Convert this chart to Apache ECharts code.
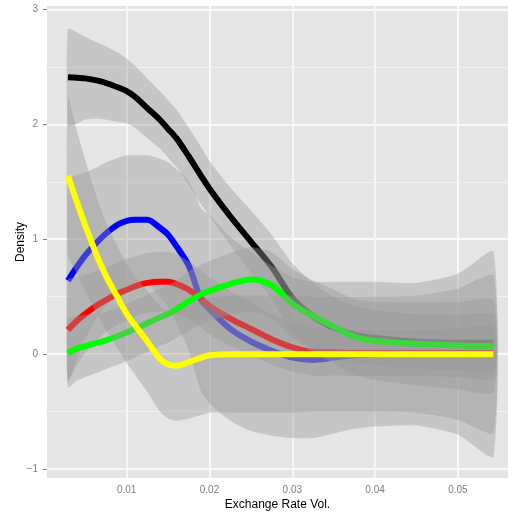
<!DOCTYPE html>
<html>
<head>
<meta charset="utf-8">
<script src="https://cdn.jsdelivr.net/npm/echarts@6/dist/echarts.min.js"></script>
<style>
html,body{margin:0;padding:0;background:#fff;}
#chart{width:510px;height:516px;}
</style>
</head>
<body>
<div id="chart"></div>
<script>
// x positions (exchange rate volatility) where the curves were read
var xs = [0.0029, 0.004, 0.005, 0.0065, 0.0075, 0.009, 0.01, 0.011, 0.0125, 0.014, 0.015, 0.016, 0.0175,
          0.019, 0.02, 0.0225, 0.025, 0.0275, 0.03, 0.0325, 0.035, 0.0375, 0.04, 0.045, 0.05, 0.0543];

// smoothed density per group, and half width of its grey band
var blackY = [2.41, 2.405, 2.40, 2.38, 2.36, 2.32, 2.29, 2.24, 2.14, 2.04, 1.96, 1.88, 1.72,
              1.55, 1.44, 1.20, 0.98, 0.76, 0.49, 0.33, 0.23, 0.17, 0.14, 0.11, 0.10, 0.10];
var blackSe = [0.42, 0.395, 0.36, 0.33, 0.32, 0.30, 0.28, 0.27, 0.26, 0.25, 0.25, 0.25, 0.25,
               0.25, 0.24, 0.25, 0.27, 0.28, 0.30, 0.29, 0.27, 0.25, 0.24, 0.24, 0.24, 0.24];

var blueY = [0.64, 0.76, 0.86, 0.98, 1.05, 1.13, 1.16, 1.17, 1.17, 1.10, 1.04, 0.94, 0.77,
             0.47, 0.39, 0.22, 0.11, 0.03, -0.03, -0.05, -0.03, -0.01, 0.0, 0.0, 0.0, 0.0];
var blueSe = [0.88, 0.80, 0.72, 0.65, 0.62, 0.58, 0.57, 0.56, 0.56, 0.60, 0.63, 0.67, 0.74,
              0.80, 0.82, 0.80, 0.78, 0.74, 0.70, 0.68, 0.66, 0.64, 0.63, 0.62, 0.70, 0.89];

var redY = [0.21, 0.29, 0.35, 0.43, 0.47, 0.53, 0.56, 0.59, 0.62, 0.63, 0.63, 0.61, 0.56,
            0.48, 0.42, 0.31, 0.22, 0.13, 0.06, 0.02, 0.015, 0.01, 0.01, 0.01, 0.01, 0.01];
var redSe = [0.44, 0.38, 0.34, 0.30, 0.28, 0.27, 0.27, 0.26, 0.26, 0.26, 0.26, 0.26, 0.25,
             0.25, 0.25, 0.24, 0.23, 0.22, 0.21, 0.21, 0.20, 0.20, 0.20, 0.20, 0.21, 0.22];

var greenY = [0.01, 0.05, 0.07, 0.10, 0.12, 0.16, 0.19, 0.22, 0.27, 0.32, 0.35, 0.39, 0.46,
              0.52, 0.55, 0.61, 0.65, 0.60, 0.44, 0.33, 0.24, 0.15, 0.115, 0.09, 0.075, 0.07];
var greenSe = [0.30, 0.28, 0.27, 0.26, 0.25, 0.25, 0.25, 0.25, 0.25, 0.25, 0.25, 0.25, 0.26,
               0.26, 0.26, 0.27, 0.28, 0.29, 0.30, 0.31, 0.32, 0.33, 0.34, 0.36, 0.38, 0.40];

var yellowY = [1.55, 1.32, 1.12, 0.84, 0.68, 0.48, 0.35, 0.25, 0.11, -0.04, -0.09, -0.10, -0.07,
               -0.03, -0.01, 0.0, 0.0, 0.0, 0.0, 0.0, 0.0, 0.0, 0.0, 0.0, 0.0, 0.0];
var yellowSe = [0.69, 0.62, 0.57, 0.50, 0.47, 0.44, 0.43, 0.43, 0.44, 0.46, 0.47, 0.48, 0.49,
                0.50, 0.50, 0.51, 0.51, 0.51, 0.51, 0.50, 0.50, 0.50, 0.50, 0.51, 0.57, 0.68];

// axis breaks
var xTicks = [0.01, 0.02, 0.03, 0.04, 0.05];
var xMinor = [0.005, 0.015, 0.025, 0.035, 0.045, 0.055];
var yTicks = [-1, 0, 1, 2, 3];
var yMinor = [-0.5, 0.5, 1.5, 2.5];

var groups = [
  {name: 'black', color: '#000000', y: blackY, se: blackSe},
  {name: 'blue', color: '#0000FF', y: blueY, se: blueSe},
  {name: 'red', color: '#FF0000', y: redY, se: redSe},
  {name: 'green', color: '#00FF00', y: greenY, se: greenSe},
  {name: 'yellow', color: '#FFFF00', y: yellowY, se: yellowSe}
];

var font = '"Liberation Sans", Arial, Helvetica, sans-serif';

function ribbon(g, z) {
  var data = xs.map(function (x, i) { return [x, g.y[i] - g.se[i], g.y[i] + g.se[i]]; });
  return {
    type: 'custom',
    name: g.name + ' se',
    z: z,
    silent: true,
    data: data,
    renderItem: function (params, api) {
      if (params.dataIndex !== 0) return null;
      var pts = [];
      for (var i = 0; i < data.length; i++) pts.push(api.coord([data[i][0], data[i][2]]));
      for (var j = data.length - 1; j >= 0; j--) pts.push(api.coord([data[j][0], data[j][1]]));
      return {
        type: 'polygon',
        shape: {points: pts, smooth: 0.2},
        style: {fill: 'rgba(153,153,153,0.4)', stroke: null}
      };
    }
  };
}

function curve(g, z) {
  return {
    type: 'line',
    name: g.name,
    z: z,
    silent: true,
    data: xs.map(function (x, i) { return [x, g.y[i]]; }),
    smooth: 0.3,
    showSymbol: false,
    lineStyle: {color: g.color, width: 6, cap: 'butt'}
  };
}

var gridLines = [];
yTicks.forEach(function (v) { gridLines.push({yAxis: v, lineStyle: {color: '#ffffff', width: 1.5, type: 'solid'}}); });
xTicks.forEach(function (v) { gridLines.push({xAxis: v, lineStyle: {color: '#ffffff', width: 1.5, type: 'solid'}}); });
yMinor.forEach(function (v) { gridLines.push({yAxis: v, lineStyle: {color: '#f2f2f2', width: 1, type: 'solid'}}); });
xMinor.forEach(function (v) { gridLines.push({xAxis: v, lineStyle: {color: '#f2f2f2', width: 1, type: 'solid'}}); });

var series = [{
  type: 'line',
  name: 'grid',
  data: [],
  silent: true,
  markLine: {
    z: 1,
    silent: true,
    symbol: 'none',
    label: {show: false},
    animation: false,
    lineStyle: {type: 'solid'},
    data: gridLines
  }
}];
groups.forEach(function (g, i) {
  series.push(ribbon(g, 3 + 2 * i));
  series.push(curve(g, 4 + 2 * i));
});

var myChart = echarts.init(document.getElementById('chart'));
myChart.setOption({
  animation: false,
  grid: {left: 47, right: 2, top: 6, bottom: 38, show: true, backgroundColor: '#E5E5E5', borderWidth: 0},
  xAxis: {
    type: 'value',
    min: 0.000374,
    max: 0.05605,
    name: 'Exchange Rate Vol.',
    nameLocation: 'middle',
    nameGap: 21,
    nameMoveOverlap: false,
    nameTextStyle: {color: '#000', fontSize: 12, fontFamily: font},
    axisLine: {show: false},
    splitLine: {show: false},
    axisTick: {show: true, customValues: xTicks, length: 4, lineStyle: {color: '#7f7f7f'}},
    axisLabel: {customValues: xTicks, margin: 7, color: '#7f7f7f', fontSize: 10, fontFamily: font}
  },
  yAxis: {
    type: 'value',
    min: -1.078,
    max: 3.030,
    name: 'Density',
    nameLocation: 'middle',
    nameGap: 20,
    nameMoveOverlap: false,
    nameRotate: 90,
    nameTextStyle: {color: '#000', fontSize: 12, fontFamily: font},
    axisLine: {show: false},
    splitLine: {show: false},
    axisTick: {show: true, customValues: yTicks, length: 4, lineStyle: {color: '#7f7f7f'}},
    axisLabel: {
      customValues: yTicks, margin: 9, color: '#7f7f7f', fontSize: 10, fontFamily: font,
      formatter: function (v) { return v < 0 ? '\u2212' + Math.abs(v) : String(v); }
    }
  },
  series: series
});
</script>
</body>
</html>
